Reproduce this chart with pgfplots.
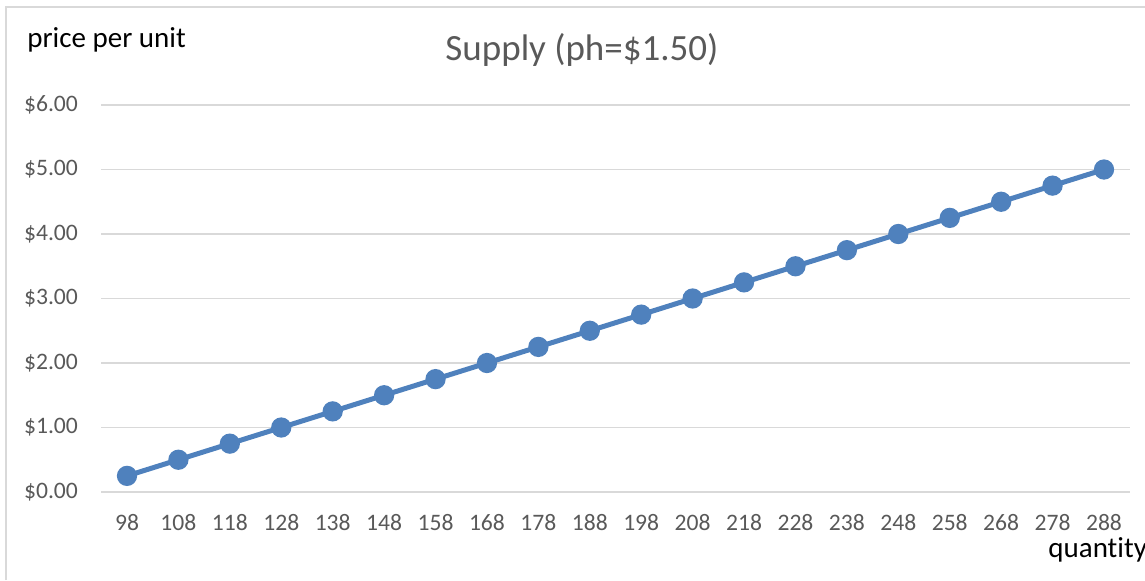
\documentclass[border=0pt]{standalone}
\usepackage{pgfplots}
\pgfplotsset{compat=1.18}
\usepackage{fontspec}
\setmainfont{Carlito}[Ligatures={NoCommon}]
\definecolor{lineblue}{HTML}{4F81BD}
\definecolor{gridgray}{HTML}{D9D9D9}
\definecolor{textgray}{HTML}{595959}
\begin{document}
\begin{tikzpicture}
\path[use as bounding box] (0,0) rectangle (572.5pt,290pt);
\draw[gridgray, line width=0.75pt] (3pt,0) -- (3pt,286.5pt) -- (572.5pt,286.5pt);
\begin{axis}[
  at={(50.65pt,44pt)}, anchor=south west,
  scale only axis, width=514.2pt, height=193.5pt,
  xmin=-0.5, xmax=19.5, ymin=0, ymax=6,
  xtick={0,...,19},
  xticklabels={98,108,118,128,138,148,158,168,178,188,198,208,218,228,238,248,258,268,278,288},
  ytick={0,...,6},
  yticklabels={\$0.00,\$1.00,\$2.00,\$3.00,\$4.00,\$5.00,\$6.00},
  ymajorgrids,
  grid style={gridgray, line width=0.75pt},
  axis line style={draw=none},
  major tick style={draw=none},
  tick label style={font=\fontsize{11.8}{14}\selectfont, text=textgray},
  xticklabel style={anchor=center, yshift=-15.5pt},
  yticklabel style={anchor=east, inner sep=0pt, xshift=-11.5pt},
  clip=false]
\addplot[lineblue, line width=2.5pt, mark=*, mark size=3.8pt,
  mark options={fill=lineblue, draw=none}] coordinates {
  (0,0.25) (1,0.50) (2,0.75) (3,1.00) (4,1.25) (5,1.50) (6,1.75) (7,2.00)
  (8,2.25) (9,2.50) (10,2.75) (11,3.00) (12,3.25) (13,3.50) (14,3.75)
  (15,4.00) (16,4.25) (17,4.50) (18,4.75) (19,5.00)};
\end{axis}
\node[font=\fontsize{18.5}{22}\selectfont, text=textgray] at (291pt,265pt) {Supply (ph=\$1.50)};
\node[font=\fontsize{14.5}{17}\selectfont, anchor=west, inner sep=0pt] at (13.5pt,270pt) {price per unit};
\node[font=\fontsize{14.5}{17}\selectfont, anchor=west, inner sep=0pt] at (524pt,15pt) {quantity};
\end{tikzpicture}
\end{document}
